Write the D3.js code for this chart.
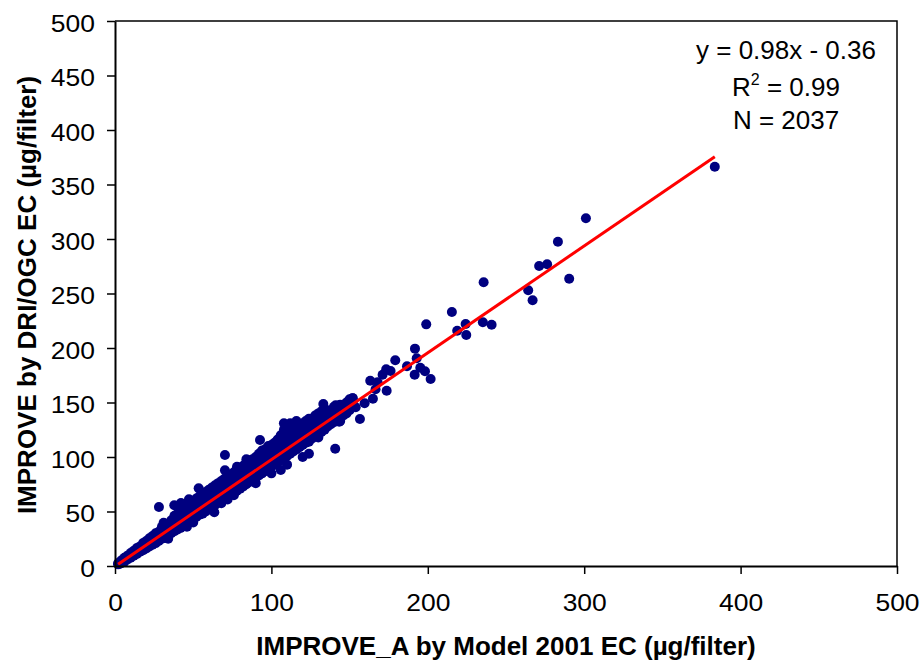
<!DOCTYPE html>
<html>
<head>
<meta charset="utf-8">
<script src="https://cdn.jsdelivr.net/npm/d3@7"></script>
<style>
    body { margin: 0; background: #fff; }
    #chart { width: 923px; height: 661px; }
    text { font-family: "Liberation Sans", Arial, sans-serif; fill: #000; }
</style>
</head>
<body>
<div id="chart"></div>
<script>
// axis ticks
const xTicks = [0, 100, 200, 300, 400, 500];
const yTicks = [0, 50, 100, 150, 200, 250, 300, 350, 400, 450, 500];

// regression shown in the box
const fitSlope = 0.98;
const fitIntercept = -0.36;
const statLines = ["y = 0.98x - 0.36", "= 0.99", "N = 2037"];

const xTitle = "IMPROVE_A by Model 2001 EC (µg/filter)";
const yTitle = "IMPROVE by DRI/OGC EC (µg/filter)";

// dense band of samples along the 1:1 line
const bandPoints = [
    [2,1.5],[2,2.5],[3,3.2],[3,2],[4,3.5],[4,5],[4,2.5],[6,5.5],[6,7.5],[6,4],[8,7.5],[8,9.5],[8,6],
    [10,9.5],[10,12],[10,7.5],[12,11.5],[12,14],[12,9.5],[14,13.5],[14,16.5],[14,11],[16,15.5],[16,18],[16,13],
    [18,17.5],[18,21],[18,14.5],[20,19.5],[20,23],[20,16],[22,21.5],[22,25.5],[22,18],[24,23],[24,27.5],[24,19.5],
    [26,25.5],[26,30],[26,21],[26,28],[28,27],[28,31.5],[28,23],[30,29.5],[30,34],[30,25],[30,36],
    [32,31],[32,36],[32,26.5],[32,38],[34,33.5],[34,38.5],[34,28],[34,25],[36,35],[36,40.5],[36,30],[36,42],
    [38,37],[38,43],[38,32],[38,46],[40,39],[40,45],[40,33.5],[40,48],[42,41],[42,47],[42,35],[42,51],
    [44,43],[44,49],[44,37],[44,53],[46,45],[46,51],[46,39],[46,55],[46,36],[48,47],[48,53],[48,41],[48,58],
    [50,49],[50,55],[50,43],[50,59],[50,40],[52,51],[52,57],[52,45],[52,62],[54,53],[54,59],[54,47],[54,64],
    [56,55],[56,61],[56,48],[56,66],[56,51],[58,57],[58,63],[58,50],[58,68],[60,58.5],[60,65],[60,52],[60,70],[60,55],
    [62,60.5],[62,67],[62,54],[62,72],[64,62.5],[64,69],[64,56],[64,74],[66,64.5],[66,71],[66,58],[66,76],
    [68,66.5],[68,73],[68,60],[68,78],[68,57.5],[70,68.5],[70,75],[70,62],[70,80],[72,70.5],[72,77],[72,64],[72,82],[72,61],
    [74,72.5],[74,79],[74,66],[74,84],[76,74],[76,81],[76,67],[76,86],[76,65],[78,76],[78,83],[78,69],[78,89],[78,91],
    [80,78],[80,85],[80,71],[80,90],[82,80],[82,87],[82,73],[82,92],[82,76],[84,82],[84,89],[84,75],[84,95],[84,98],
    [86,84],[86,91],[86,77],[86,97],[88,86],[88,93],[88,79],[88,98],[88,81],[90,88],[90,95],[90,81],[90,100],[90,76],
    [92,90],[92,97],[92,83],[92,103],[94,92],[94,99],[94,85],[94,106],[96,94],[96,101],[96,87],[96,107],[96,89],
    [98,96],[98,103],[98,89],[98,110],[100,98],[100,105],[100,91],[100,111],[100,85],[102,99.5],[102,107],[102,93],[102,113],
    [104,101.5],[104,109],[104,95],[104,114],[104,116],[106,103.5],[106,111],[106,97],[106,120],[106,88],
    [108,105.5],[108,113],[108,99],[108,125],[108,131],[110,107.5],[110,115],[110,101],[110,122],[110,93],
    [112,109.5],[112,117],[112,103],[112,127],[112,131],[114,111.5],[114,119],[114,105],[114,125],
    [116,113.5],[116,121],[116,107],[116,128],[116,133],[118,115.5],[118,123],[118,109],[118,130],
    [120,117.5],[120,125],[120,111],[120,131],[120,100],[122,119],[122,127],[122,113],[122,133],
    [124,121],[124,129],[124,114],[124,135],[124,103],[126,123],[126,131],[126,117],[126,128],
    [128,125],[128,133],[128,119],[128,138],[130,127],[130,135],[130,120],[130,140],[130,118],
    [132,129],[132,137],[132,123],[132,142],[134,131],[134,139],[134,125],[134,133],[136,133],[136,141],[136,128],[136,143],
    [138,135],[138,142],[138,130],[140,137],[140,146],[140,132],[140,138],[142,139],[142,147],[142,134],
    [144,141],[144,148],[144,133],[146,143],[146,148],[146,138],[148,145],[148,150],[148,140],
    [150,147],[150,153],[150,143],[152,149],[152,154]
];

// scattered points away from the band
const outlierPoints = [
    [28.1,54.1],[31.1,39.7],[37.9,55.7],[42.2,57.8],[47.3,61.2],[45.8,38.5],[53.5,71.3],[63.5,49.3],
    [70.3,101.8],[70.3,87.8],[92.7,115.6],[133.2,148.6],[140.8,107.6],[135.3,141.6],[141.1,147.4],
    [145.9,147.7],[143.4,132.4],[151.9,153.9],[153.9,145.6],[156.6,134.9],[159.6,149.3],[164.9,153.5],
    [166.6,162.1],[173.7,160.8],[163.2,170],[167.9,168.5],[171.1,175.5],[173.4,180.5],[176.2,178.9],
    [179.2,188.7],[186.7,183.2],[191.8,199.4],[192.9,190.6],[195.2,181.9],[198.2,178.6],[201.8,171.6],
    [191.6,175.5],[199,221.7],[215.4,233],[218.8,215.9],[224.2,222],[224.6,211.9],[235.2,223.6],
    [240.8,221.4],[235.7,260.3],[264.2,252.9],[267,243.8],[271.2,275.2],[276.3,276.8],[290.4,263.6],
    [283.2,297.5],[301.1,319],[383.5,366.3]
];

class ScatterVis {
    constructor(parentElement, data) {
        this.parentElement = parentElement;
        this.data = data;
        this.initVis();
    }

    initVis() {
        let vis = this;

        vis.margin = {top: 21, right: 26, bottom: 95, left: 115};
        vis.width = 923 - vis.margin.left - vis.margin.right;
        vis.height = 661 - vis.margin.top - vis.margin.bottom;

        vis.root = d3.select("#" + vis.parentElement).append("svg")
            .attr("width", 923)
            .attr("height", 661);
        vis.svg = vis.root.append("g")
            .attr("transform", "translate(" + vis.margin.left + "," + vis.margin.top + ")");

        vis.x = d3.scaleLinear().domain([0, 500]).range([0, vis.width]);
        vis.y = d3.scaleLinear().domain([0, 500]).range([vis.height, 0]);

        // frame (top + right)
        vis.svg.append("path")
            .attr("d", `M0,0H${vis.width}V${vis.height}`)
            .attr("fill", "none").attr("stroke", "#000").attr("stroke-width", 1.5);

        vis.updateVis();
    }

    updateVis() {
        let vis = this;
        let stretch = 1.15;

        // points
        vis.svg.append("g").selectAll("circle")
            .data(vis.data)
            .join("circle")
            .attr("cx", d => vis.x(d[0]))
            .attr("cy", d => vis.y(d[1]))
            .attr("r", 5)
            .attr("fill", "#000080");

        // fit line over data range
        let xr = d3.extent(vis.data, d => d[0]);
        vis.svg.append("line")
            .attr("x1", vis.x(xr[0])).attr("y1", vis.y(fitSlope * xr[0] + fitIntercept))
            .attr("x2", vis.x(xr[1])).attr("y2", vis.y(fitSlope * xr[1] + fitIntercept))
            .attr("stroke", "#ff0000").attr("stroke-width", 3);

        // axes
        let xAxis = vis.svg.append("g")
            .attr("transform", "translate(0," + vis.height + ")")
            .call(d3.axisBottom(vis.x).tickValues(xTicks).tickSize(8).tickSizeOuter(0));
        let yAxis = vis.svg.append("g")
            .call(d3.axisLeft(vis.y).tickValues(yTicks).tickSize(8).tickSizeOuter(0));

        [xAxis, yAxis].forEach(a => {
            a.select(".domain").attr("stroke", "#000").attr("stroke-width", 2);
            a.selectAll(".tick line").attr("stroke", "#000").attr("stroke-width", 1.5);
            a.selectAll("text")
                .style("font-family", '"Liberation Sans", Arial, sans-serif')
                .style("font-size", "23px")
                .attr("fill", "#000");
        });
        xAxis.selectAll("text").attr("y", 45).attr("dy", 0)
            .attr("transform", `scale(${stretch},1)`);
        yAxis.selectAll("text").attr("x", -17.5).attr("dy", 10)
            .attr("transform", `scale(${stretch},1)`);

        // axis titles
        vis.root.append("text")
            .attr("x", vis.margin.left + vis.x(250))
            .attr("y", 655)
            .attr("text-anchor", "middle")
            .style("font-size", "26px").style("font-weight", "bold")
            .text(xTitle);
        vis.root.append("text")
            .attr("transform", "translate(36,295) rotate(-90)")
            .attr("text-anchor", "middle")
            .style("font-size", "26px").style("font-weight", "bold")
            .text(yTitle);

        // stats box
        let cx = 786;
        vis.root.append("text").attr("x", cx).attr("y", 59)
            .attr("text-anchor", "middle").style("font-size", "26px").text(statLines[0]);
        let r2 = vis.root.append("text").attr("x", cx).attr("y", 96)
            .attr("text-anchor", "middle").style("font-size", "26px");
        r2.append("tspan").text("R");
        r2.append("tspan").attr("dy", -11).style("font-size", "16px").text("2");
        r2.append("tspan").attr("dy", 11).text(" " + statLines[1]);
        vis.root.append("text").attr("x", cx).attr("y", 129)
            .attr("text-anchor", "middle").style("font-size", "26px").text(statLines[2]);
    }
}

let chart = new ScatterVis("chart", bandPoints.concat(outlierPoints));
</script>
</body>
</html>
